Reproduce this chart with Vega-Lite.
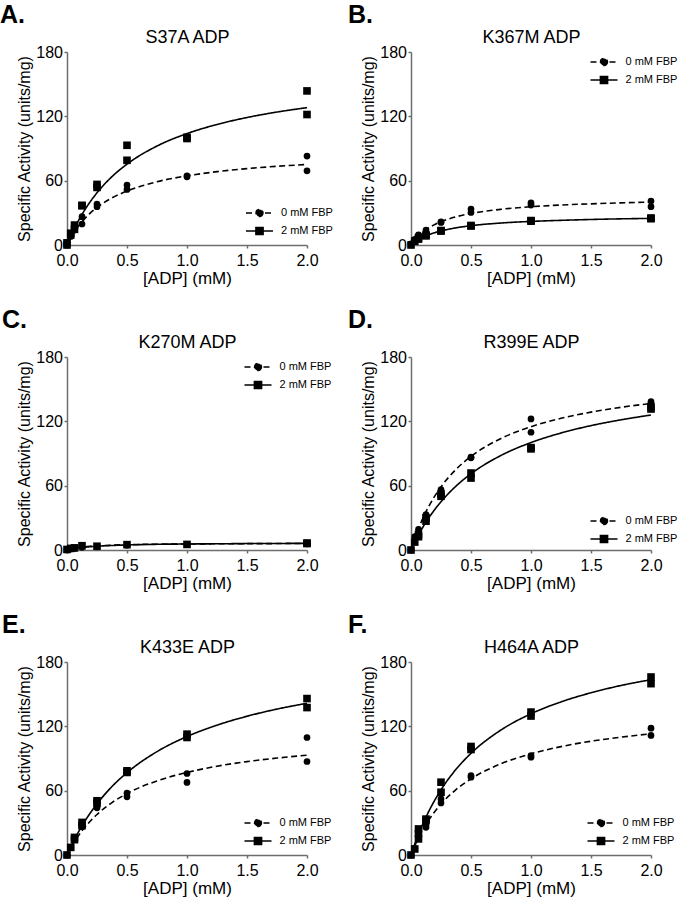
{
"$schema": "https://vega.github.io/schema/vega-lite/v6.json",
"padding": {"left": 0, "top": 3, "right": 0, "bottom": 0},
"background": "white",
"config": {
 "font": "Liberation Sans",
 "view": {"stroke": null},
 "axis": {"grid": false, "domainColor": "#6e6e6e", "domainWidth": 1.5, "tickColor": "#6e6e6e", "tickWidth": 1.5, "tickSize": 3, "labelFontSize": 16, "labelColor": "black", "labelFlush": false, "labelOverlap": false, "titleFontSize": 16, "titleFontWeight": "normal", "titleColor": "black"},
 "axisX": {"labelPadding": 4.5, "titlePadding": 2, "titleFontSize": 17},
 "axisY": {"labelPadding": 1.5, "titlePadding": 3},
 "title": {"anchor": "start", "frame": "group", "fontSize": 25, "fontWeight": "bold", "color": "black", "baseline": "bottom", "offset": 0.5},
 "legend": {"padding": 0, "labelFontSize": 11, "labelColor": "black", "labelBaseline": "middle", "symbolSize": 144, "labelOffset": 14.5, "rowPadding": 4, "symbolStrokeWidth": 1.5, "symbolFillColor": "black", "symbolStrokeColor": "black"}
},
"concat": [
 {"width": 240, "height": 193, "title": {"text": "A.", "dx": -67}, "resolve": {"axis": {"x": "independent"}},
  "layer": [
   {"data": {"name": "fit"}, "transform": [{"filter": "datum.panel === 'A'"}],
    "mark": {"type": "line", "interpolate": "monotone", "strokeWidth": 1.6, "color": "black"},
    "encoding": {
     "x": {"field": "adp", "type": "quantitative", "scale": {"domain": [0, 2]}, "axis": {"title": "[ADP] (mM)", "values": [0, 0.5, 1, 1.5, 2], "format": ".1f"}},
     "y": {"field": "act", "type": "quantitative", "scale": {"domain": [0, 180]}, "axis": {"title": "Specific Activity (units/mg)", "values": [0, 60, 120, 180]}},
     "strokeDash": {"field": "fbp", "type": "nominal", "scale": {"domain": ["0 mM FBP", "2 mM FBP"], "range": [[6, 3.5], [1, 0]]},
      "legend": {"orient": "none", "legendX": 185.5, "legendY": 154, "title": null,
       "encode": {"symbols": {"update": {"shape": {"signal": "datum.value === '0 mM FBP' ? 'M-2.25,0L2.25,0M0.58,0A0.58,0.58,0,1,1,-0.58,0A0.58,0.58,0,1,1,0.58,0Z' : 'M-2.25,0L2.25,0M-0.6,-0.6L0.6,-0.6L0.6,0.6L-0.6,0.6Z'"}, "fill": {"value": "black"}, "stroke": {"value": "black"}}}}}}
    }},
   {"data": {"name": "pts"}, "transform": [{"filter": "datum.panel === 'A' && datum.fbp === '0 mM FBP'"}],
    "mark": {"type": "point", "shape": "circle", "size": 45, "filled": true, "color": "black", "opacity": 1},
    "encoding": {
     "x": {"field": "adp", "type": "quantitative", "scale": {"domain": [0, 2]}, "axis": {"orient": "top", "title": "S37A ADP", "labels": false, "ticks": false, "domain": false, "titleFontSize": 18, "titlePadding": 5.5, "minExtent": 0}},
     "y": {"field": "act", "type": "quantitative", "scale": {"domain": [0, 180]}, "axis": {"title": "Specific Activity (units/mg)", "values": [0, 60, 120, 180]}}
    }},
   {"data": {"name": "pts"}, "transform": [{"filter": "datum.panel === 'A' && datum.fbp === '2 mM FBP'"}],
    "mark": {"type": "point", "shape": "square", "size": 58, "filled": true, "color": "black", "opacity": 1},
    "encoding": {
     "x": {"field": "adp", "type": "quantitative", "scale": {"domain": [0, 2]}, "axis": null},
     "y": {"field": "act", "type": "quantitative", "scale": {"domain": [0, 180]}, "axis": {"title": "Specific Activity (units/mg)", "values": [0, 60, 120, 180]}}
    }}
  ]},
 {"width": 240, "height": 193, "title": {"text": "B.", "dx": -63}, "resolve": {"axis": {"x": "independent"}},
  "layer": [
   {"data": {"name": "fit"}, "transform": [{"filter": "datum.panel === 'B'"}],
    "mark": {"type": "line", "interpolate": "monotone", "strokeWidth": 1.6, "color": "black"},
    "encoding": {
     "x": {"field": "adp", "type": "quantitative", "scale": {"domain": [0, 2]}, "axis": {"title": "[ADP] (mM)", "values": [0, 0.5, 1, 1.5, 2], "format": ".1f"}},
     "y": {"field": "act", "type": "quantitative", "scale": {"domain": [0, 180]}, "axis": {"title": "Specific Activity (units/mg)", "values": [0, 60, 120, 180]}},
     "strokeDash": {"field": "fbp", "type": "nominal", "scale": {"domain": ["0 mM FBP", "2 mM FBP"], "range": [[6, 3.5], [1, 0]]},
      "legend": {"orient": "none", "legendX": 186, "legendY": 3, "title": null,
       "encode": {"symbols": {"update": {"shape": {"signal": "datum.value === '0 mM FBP' ? 'M-2.25,0L2.25,0M0.58,0A0.58,0.58,0,1,1,-0.58,0A0.58,0.58,0,1,1,0.58,0Z' : 'M-2.25,0L2.25,0M-0.6,-0.6L0.6,-0.6L0.6,0.6L-0.6,0.6Z'"}, "fill": {"value": "black"}, "stroke": {"value": "black"}}}}}}
    }},
   {"data": {"name": "pts"}, "transform": [{"filter": "datum.panel === 'B' && datum.fbp === '0 mM FBP'"}],
    "mark": {"type": "point", "shape": "circle", "size": 45, "filled": true, "color": "black", "opacity": 1},
    "encoding": {
     "x": {"field": "adp", "type": "quantitative", "scale": {"domain": [0, 2]}, "axis": {"orient": "top", "title": "K367M ADP", "labels": false, "ticks": false, "domain": false, "titleFontSize": 18, "titlePadding": 5.5, "minExtent": 0}},
     "y": {"field": "act", "type": "quantitative", "scale": {"domain": [0, 180]}, "axis": {"title": "Specific Activity (units/mg)", "values": [0, 60, 120, 180]}}
    }},
   {"data": {"name": "pts"}, "transform": [{"filter": "datum.panel === 'B' && datum.fbp === '2 mM FBP'"}],
    "mark": {"type": "point", "shape": "square", "size": 58, "filled": true, "color": "black", "opacity": 1},
    "encoding": {
     "x": {"field": "adp", "type": "quantitative", "scale": {"domain": [0, 2]}, "axis": null},
     "y": {"field": "act", "type": "quantitative", "scale": {"domain": [0, 180]}, "axis": {"title": "Specific Activity (units/mg)", "values": [0, 60, 120, 180]}}
    }}
  ]},
 {"width": 240, "height": 193, "title": {"text": "C.", "dx": -65}, "resolve": {"axis": {"x": "independent"}},
  "layer": [
   {"data": {"name": "fit"}, "transform": [{"filter": "datum.panel === 'C'"}],
    "mark": {"type": "line", "interpolate": "monotone", "strokeWidth": 1.6, "color": "black"},
    "encoding": {
     "x": {"field": "adp", "type": "quantitative", "scale": {"domain": [0, 2]}, "axis": {"title": "[ADP] (mM)", "values": [0, 0.5, 1, 1.5, 2], "format": ".1f"}},
     "y": {"field": "act", "type": "quantitative", "scale": {"domain": [0, 180]}, "axis": {"title": "Specific Activity (units/mg)", "values": [0, 60, 120, 180]}},
     "strokeDash": {"field": "fbp", "type": "nominal", "scale": {"domain": ["0 mM FBP", "2 mM FBP"], "range": [[6, 3.5], [1, 0]]},
      "legend": {"orient": "none", "legendX": 184, "legendY": 3, "title": null,
       "encode": {"symbols": {"update": {"shape": {"signal": "datum.value === '0 mM FBP' ? 'M-2.25,0L2.25,0M0.58,0A0.58,0.58,0,1,1,-0.58,0A0.58,0.58,0,1,1,0.58,0Z' : 'M-2.25,0L2.25,0M-0.6,-0.6L0.6,-0.6L0.6,0.6L-0.6,0.6Z'"}, "fill": {"value": "black"}, "stroke": {"value": "black"}}}}}}
    }},
   {"data": {"name": "pts"}, "transform": [{"filter": "datum.panel === 'C' && datum.fbp === '0 mM FBP'"}],
    "mark": {"type": "point", "shape": "circle", "size": 45, "filled": true, "color": "black", "opacity": 1},
    "encoding": {
     "x": {"field": "adp", "type": "quantitative", "scale": {"domain": [0, 2]}, "axis": {"orient": "top", "title": "K270M ADP", "labels": false, "ticks": false, "domain": false, "titleFontSize": 18, "titlePadding": 5.5, "minExtent": 0}},
     "y": {"field": "act", "type": "quantitative", "scale": {"domain": [0, 180]}, "axis": {"title": "Specific Activity (units/mg)", "values": [0, 60, 120, 180]}}
    }},
   {"data": {"name": "pts"}, "transform": [{"filter": "datum.panel === 'C' && datum.fbp === '2 mM FBP'"}],
    "mark": {"type": "point", "shape": "square", "size": 58, "filled": true, "color": "black", "opacity": 1},
    "encoding": {
     "x": {"field": "adp", "type": "quantitative", "scale": {"domain": [0, 2]}, "axis": null},
     "y": {"field": "act", "type": "quantitative", "scale": {"domain": [0, 180]}, "axis": {"title": "Specific Activity (units/mg)", "values": [0, 60, 120, 180]}}
    }}
  ]},
 {"width": 240, "height": 193, "title": {"text": "D.", "dx": -63}, "resolve": {"axis": {"x": "independent"}},
  "layer": [
   {"data": {"name": "fit"}, "transform": [{"filter": "datum.panel === 'D'"}],
    "mark": {"type": "line", "interpolate": "monotone", "strokeWidth": 1.6, "color": "black"},
    "encoding": {
     "x": {"field": "adp", "type": "quantitative", "scale": {"domain": [0, 2]}, "axis": {"title": "[ADP] (mM)", "values": [0, 0.5, 1, 1.5, 2], "format": ".1f"}},
     "y": {"field": "act", "type": "quantitative", "scale": {"domain": [0, 180]}, "axis": {"title": "Specific Activity (units/mg)", "values": [0, 60, 120, 180]}},
     "strokeDash": {"field": "fbp", "type": "nominal", "scale": {"domain": ["0 mM FBP", "2 mM FBP"], "range": [[6, 3.5], [1, 0]]},
      "legend": {"orient": "none", "legendX": 186, "legendY": 157, "title": null,
       "encode": {"symbols": {"update": {"shape": {"signal": "datum.value === '0 mM FBP' ? 'M-2.25,0L2.25,0M0.58,0A0.58,0.58,0,1,1,-0.58,0A0.58,0.58,0,1,1,0.58,0Z' : 'M-2.25,0L2.25,0M-0.6,-0.6L0.6,-0.6L0.6,0.6L-0.6,0.6Z'"}, "fill": {"value": "black"}, "stroke": {"value": "black"}}}}}}
    }},
   {"data": {"name": "pts"}, "transform": [{"filter": "datum.panel === 'D' && datum.fbp === '0 mM FBP'"}],
    "mark": {"type": "point", "shape": "circle", "size": 45, "filled": true, "color": "black", "opacity": 1},
    "encoding": {
     "x": {"field": "adp", "type": "quantitative", "scale": {"domain": [0, 2]}, "axis": {"orient": "top", "title": "R399E ADP", "labels": false, "ticks": false, "domain": false, "titleFontSize": 18, "titlePadding": 5.5, "minExtent": 0}},
     "y": {"field": "act", "type": "quantitative", "scale": {"domain": [0, 180]}, "axis": {"title": "Specific Activity (units/mg)", "values": [0, 60, 120, 180]}}
    }},
   {"data": {"name": "pts"}, "transform": [{"filter": "datum.panel === 'D' && datum.fbp === '2 mM FBP'"}],
    "mark": {"type": "point", "shape": "square", "size": 58, "filled": true, "color": "black", "opacity": 1},
    "encoding": {
     "x": {"field": "adp", "type": "quantitative", "scale": {"domain": [0, 2]}, "axis": null},
     "y": {"field": "act", "type": "quantitative", "scale": {"domain": [0, 180]}, "axis": {"title": "Specific Activity (units/mg)", "values": [0, 60, 120, 180]}}
    }}
  ]},
 {"width": 240, "height": 193, "title": {"text": "E.", "dx": -65}, "resolve": {"axis": {"x": "independent"}},
  "layer": [
   {"data": {"name": "fit"}, "transform": [{"filter": "datum.panel === 'E'"}],
    "mark": {"type": "line", "interpolate": "monotone", "strokeWidth": 1.6, "color": "black"},
    "encoding": {
     "x": {"field": "adp", "type": "quantitative", "scale": {"domain": [0, 2]}, "axis": {"title": "[ADP] (mM)", "values": [0, 0.5, 1, 1.5, 2], "format": ".1f"}},
     "y": {"field": "act", "type": "quantitative", "scale": {"domain": [0, 180]}, "axis": {"title": "Specific Activity (units/mg)", "values": [0, 60, 120, 180]}},
     "strokeDash": {"field": "fbp", "type": "nominal", "scale": {"domain": ["0 mM FBP", "2 mM FBP"], "range": [[6, 3.5], [1, 0]]},
      "legend": {"orient": "none", "legendX": 184, "legendY": 154, "title": null,
       "encode": {"symbols": {"update": {"shape": {"signal": "datum.value === '0 mM FBP' ? 'M-2.25,0L2.25,0M0.58,0A0.58,0.58,0,1,1,-0.58,0A0.58,0.58,0,1,1,0.58,0Z' : 'M-2.25,0L2.25,0M-0.6,-0.6L0.6,-0.6L0.6,0.6L-0.6,0.6Z'"}, "fill": {"value": "black"}, "stroke": {"value": "black"}}}}}}
    }},
   {"data": {"name": "pts"}, "transform": [{"filter": "datum.panel === 'E' && datum.fbp === '0 mM FBP'"}],
    "mark": {"type": "point", "shape": "circle", "size": 45, "filled": true, "color": "black", "opacity": 1},
    "encoding": {
     "x": {"field": "adp", "type": "quantitative", "scale": {"domain": [0, 2]}, "axis": {"orient": "top", "title": "K433E ADP", "labels": false, "ticks": false, "domain": false, "titleFontSize": 18, "titlePadding": 5.5, "minExtent": 0}},
     "y": {"field": "act", "type": "quantitative", "scale": {"domain": [0, 180]}, "axis": {"title": "Specific Activity (units/mg)", "values": [0, 60, 120, 180]}}
    }},
   {"data": {"name": "pts"}, "transform": [{"filter": "datum.panel === 'E' && datum.fbp === '2 mM FBP'"}],
    "mark": {"type": "point", "shape": "square", "size": 58, "filled": true, "color": "black", "opacity": 1},
    "encoding": {
     "x": {"field": "adp", "type": "quantitative", "scale": {"domain": [0, 2]}, "axis": null},
     "y": {"field": "act", "type": "quantitative", "scale": {"domain": [0, 180]}, "axis": {"title": "Specific Activity (units/mg)", "values": [0, 60, 120, 180]}}
    }}
  ]},
 {"width": 240, "height": 193, "title": {"text": "F.", "dx": -63}, "resolve": {"axis": {"x": "independent"}},
  "layer": [
   {"data": {"name": "fit"}, "transform": [{"filter": "datum.panel === 'F'"}],
    "mark": {"type": "line", "interpolate": "monotone", "strokeWidth": 1.6, "color": "black"},
    "encoding": {
     "x": {"field": "adp", "type": "quantitative", "scale": {"domain": [0, 2]}, "axis": {"title": "[ADP] (mM)", "values": [0, 0.5, 1, 1.5, 2], "format": ".1f"}},
     "y": {"field": "act", "type": "quantitative", "scale": {"domain": [0, 180]}, "axis": {"title": "Specific Activity (units/mg)", "values": [0, 60, 120, 180]}},
     "strokeDash": {"field": "fbp", "type": "nominal", "scale": {"domain": ["0 mM FBP", "2 mM FBP"], "range": [[6, 3.5], [1, 0]]},
      "legend": {"orient": "none", "legendX": 183, "legendY": 154, "title": null,
       "encode": {"symbols": {"update": {"shape": {"signal": "datum.value === '0 mM FBP' ? 'M-2.25,0L2.25,0M0.58,0A0.58,0.58,0,1,1,-0.58,0A0.58,0.58,0,1,1,0.58,0Z' : 'M-2.25,0L2.25,0M-0.6,-0.6L0.6,-0.6L0.6,0.6L-0.6,0.6Z'"}, "fill": {"value": "black"}, "stroke": {"value": "black"}}}}}}
    }},
   {"data": {"name": "pts"}, "transform": [{"filter": "datum.panel === 'F' && datum.fbp === '0 mM FBP'"}],
    "mark": {"type": "point", "shape": "circle", "size": 45, "filled": true, "color": "black", "opacity": 1},
    "encoding": {
     "x": {"field": "adp", "type": "quantitative", "scale": {"domain": [0, 2]}, "axis": {"orient": "top", "title": "H464A ADP", "labels": false, "ticks": false, "domain": false, "titleFontSize": 18, "titlePadding": 5.5, "minExtent": 0}},
     "y": {"field": "act", "type": "quantitative", "scale": {"domain": [0, 180]}, "axis": {"title": "Specific Activity (units/mg)", "values": [0, 60, 120, 180]}}
    }},
   {"data": {"name": "pts"}, "transform": [{"filter": "datum.panel === 'F' && datum.fbp === '2 mM FBP'"}],
    "mark": {"type": "point", "shape": "square", "size": 58, "filled": true, "color": "black", "opacity": 1},
    "encoding": {
     "x": {"field": "adp", "type": "quantitative", "scale": {"domain": [0, 2]}, "axis": null},
     "y": {"field": "act", "type": "quantitative", "scale": {"domain": [0, 180]}, "axis": {"title": "Specific Activity (units/mg)", "values": [0, 60, 120, 180]}}
    }}
  ]}
],
"columns": 2,
"bounds": "flush",
"spacing": {"row": 112, "column": 104},
"resolve": {"scale": {"strokeDash": "independent"}, "legend": {"strokeDash": "independent"}},
"datasets": {
"pts": [
{"panel":"A","fbp":"0 mM FBP","adp":0,"act":0},{"panel":"A","fbp":"0 mM FBP","adp":0.03125,"act":8},{"panel":"A","fbp":"0 mM FBP","adp":0.0625,"act":14},{"panel":"A","fbp":"0 mM FBP","adp":0.0625,"act":17},{"panel":"A","fbp":"0 mM FBP","adp":0.125,"act":19.6},{"panel":"A","fbp":"0 mM FBP","adp":0.125,"act":26.4},{"panel":"A","fbp":"0 mM FBP","adp":0.25,"act":35.7},{"panel":"A","fbp":"0 mM FBP","adp":0.25,"act":38.2},{"panel":"A","fbp":"0 mM FBP","adp":0.5,"act":51.8},{"panel":"A","fbp":"0 mM FBP","adp":0.5,"act":55.9},{"panel":"A","fbp":"0 mM FBP","adp":1,"act":63.6},{"panel":"A","fbp":"0 mM FBP","adp":1,"act":64.5},{"panel":"A","fbp":"0 mM FBP","adp":2,"act":69.2},{"panel":"A","fbp":"0 mM FBP","adp":2,"act":82.9},
{"panel":"A","fbp":"2 mM FBP","adp":0,"act":0},{"panel":"A","fbp":"2 mM FBP","adp":0,"act":2},{"panel":"A","fbp":"2 mM FBP","adp":0.03125,"act":9.3},{"panel":"A","fbp":"2 mM FBP","adp":0.03125,"act":11},{"panel":"A","fbp":"2 mM FBP","adp":0.0625,"act":14.6},{"panel":"A","fbp":"2 mM FBP","adp":0.0625,"act":18.6},{"panel":"A","fbp":"2 mM FBP","adp":0.125,"act":36.6},{"panel":"A","fbp":"2 mM FBP","adp":0.125,"act":37},{"panel":"A","fbp":"2 mM FBP","adp":0.25,"act":53.7},{"panel":"A","fbp":"2 mM FBP","adp":0.25,"act":56.5},{"panel":"A","fbp":"2 mM FBP","adp":0.5,"act":79},{"panel":"A","fbp":"2 mM FBP","adp":0.5,"act":93},{"panel":"A","fbp":"2 mM FBP","adp":1,"act":99.3},{"panel":"A","fbp":"2 mM FBP","adp":1,"act":100.5},{"panel":"A","fbp":"2 mM FBP","adp":2,"act":121.7},{"panel":"A","fbp":"2 mM FBP","adp":2,"act":143.7},
{"panel":"B","fbp":"0 mM FBP","adp":0,"act":1},{"panel":"B","fbp":"0 mM FBP","adp":0.03125,"act":5.3},{"panel":"B","fbp":"0 mM FBP","adp":0.0625,"act":8.7},{"panel":"B","fbp":"0 mM FBP","adp":0.0625,"act":9.5},{"panel":"B","fbp":"0 mM FBP","adp":0.125,"act":11.8},{"panel":"B","fbp":"0 mM FBP","adp":0.125,"act":14},{"panel":"B","fbp":"0 mM FBP","adp":0.25,"act":21.1},{"panel":"B","fbp":"0 mM FBP","adp":0.25,"act":21.5},{"panel":"B","fbp":"0 mM FBP","adp":0.5,"act":30.4},{"panel":"B","fbp":"0 mM FBP","adp":0.5,"act":33.5},{"panel":"B","fbp":"0 mM FBP","adp":1,"act":37.2},{"panel":"B","fbp":"0 mM FBP","adp":1,"act":39.4},{"panel":"B","fbp":"0 mM FBP","adp":2,"act":35.7},{"panel":"B","fbp":"0 mM FBP","adp":2,"act":41},
{"panel":"B","fbp":"2 mM FBP","adp":0,"act":0},{"panel":"B","fbp":"2 mM FBP","adp":0.03125,"act":3.5},{"panel":"B","fbp":"2 mM FBP","adp":0.0625,"act":5.5},{"panel":"B","fbp":"2 mM FBP","adp":0.0625,"act":6.8},{"panel":"B","fbp":"2 mM FBP","adp":0.125,"act":8.5},{"panel":"B","fbp":"2 mM FBP","adp":0.125,"act":9.3},{"panel":"B","fbp":"2 mM FBP","adp":0.25,"act":13},{"panel":"B","fbp":"2 mM FBP","adp":0.25,"act":13.5},{"panel":"B","fbp":"2 mM FBP","adp":0.5,"act":17.7},{"panel":"B","fbp":"2 mM FBP","adp":0.5,"act":18.2},{"panel":"B","fbp":"2 mM FBP","adp":1,"act":22.2},{"panel":"B","fbp":"2 mM FBP","adp":1,"act":22.8},{"panel":"B","fbp":"2 mM FBP","adp":2,"act":24.5},{"panel":"B","fbp":"2 mM FBP","adp":2,"act":25.2},
{"panel":"C","fbp":"0 mM FBP","adp":0,"act":0},{"panel":"C","fbp":"0 mM FBP","adp":0.03125,"act":1},{"panel":"C","fbp":"0 mM FBP","adp":0.0625,"act":1.5},{"panel":"C","fbp":"0 mM FBP","adp":0.125,"act":2.5},{"panel":"C","fbp":"0 mM FBP","adp":0.25,"act":3},{"panel":"C","fbp":"0 mM FBP","adp":0.5,"act":4.5},{"panel":"C","fbp":"0 mM FBP","adp":1,"act":5},{"panel":"C","fbp":"0 mM FBP","adp":2,"act":5.8},{"panel":"C","fbp":"0 mM FBP","adp":2,"act":6.2},
{"panel":"C","fbp":"2 mM FBP","adp":0,"act":0.5},{"panel":"C","fbp":"2 mM FBP","adp":0.03125,"act":1.5},{"panel":"C","fbp":"2 mM FBP","adp":0.0625,"act":2},{"panel":"C","fbp":"2 mM FBP","adp":0.125,"act":4},{"panel":"C","fbp":"2 mM FBP","adp":0.25,"act":3.5},{"panel":"C","fbp":"2 mM FBP","adp":0.5,"act":5},{"panel":"C","fbp":"2 mM FBP","adp":1,"act":5.2},{"panel":"C","fbp":"2 mM FBP","adp":2,"act":6},{"panel":"C","fbp":"2 mM FBP","adp":2,"act":6.5},
{"panel":"D","fbp":"0 mM FBP","adp":0,"act":0},{"panel":"D","fbp":"0 mM FBP","adp":0.03125,"act":12.4},{"panel":"D","fbp":"0 mM FBP","adp":0.0625,"act":14.5},{"panel":"D","fbp":"0 mM FBP","adp":0.0625,"act":19.2},{"panel":"D","fbp":"0 mM FBP","adp":0.125,"act":31},{"panel":"D","fbp":"0 mM FBP","adp":0.125,"act":33.1},{"panel":"D","fbp":"0 mM FBP","adp":0.25,"act":54.1},{"panel":"D","fbp":"0 mM FBP","adp":0.25,"act":56.3},{"panel":"D","fbp":"0 mM FBP","adp":0.5,"act":86},{"panel":"D","fbp":"0 mM FBP","adp":0.5,"act":86.6},{"panel":"D","fbp":"0 mM FBP","adp":1,"act":109.8},{"panel":"D","fbp":"0 mM FBP","adp":1,"act":122.2},{"panel":"D","fbp":"0 mM FBP","adp":2,"act":136.7},{"panel":"D","fbp":"0 mM FBP","adp":2,"act":138.3},
{"panel":"D","fbp":"2 mM FBP","adp":0,"act":0},{"panel":"D","fbp":"2 mM FBP","adp":0.03125,"act":7.4},{"panel":"D","fbp":"2 mM FBP","adp":0.0625,"act":12.4},{"panel":"D","fbp":"2 mM FBP","adp":0.0625,"act":14.5},{"panel":"D","fbp":"2 mM FBP","adp":0.125,"act":26.9},{"panel":"D","fbp":"2 mM FBP","adp":0.125,"act":30},{"panel":"D","fbp":"2 mM FBP","adp":0.25,"act":50.1},{"panel":"D","fbp":"2 mM FBP","adp":0.25,"act":52.3},{"panel":"D","fbp":"2 mM FBP","adp":0.5,"act":67.1},{"panel":"D","fbp":"2 mM FBP","adp":0.5,"act":71.8},{"panel":"D","fbp":"2 mM FBP","adp":1,"act":94.3},{"panel":"D","fbp":"2 mM FBP","adp":1,"act":95.5},{"panel":"D","fbp":"2 mM FBP","adp":2,"act":131.5},{"panel":"D","fbp":"2 mM FBP","adp":2,"act":133.6},
{"panel":"E","fbp":"0 mM FBP","adp":0,"act":0},{"panel":"E","fbp":"0 mM FBP","adp":0.03125,"act":7.1},{"panel":"E","fbp":"0 mM FBP","adp":0.0625,"act":15.5},{"panel":"E","fbp":"0 mM FBP","adp":0.0625,"act":16},{"panel":"E","fbp":"0 mM FBP","adp":0.125,"act":26.4},{"panel":"E","fbp":"0 mM FBP","adp":0.125,"act":28},{"panel":"E","fbp":"0 mM FBP","adp":0.25,"act":44},{"panel":"E","fbp":"0 mM FBP","adp":0.25,"act":45.3},{"panel":"E","fbp":"0 mM FBP","adp":0.5,"act":54.3},{"panel":"E","fbp":"0 mM FBP","adp":0.5,"act":57.7},{"panel":"E","fbp":"0 mM FBP","adp":1,"act":67.7},{"panel":"E","fbp":"0 mM FBP","adp":1,"act":76},{"panel":"E","fbp":"0 mM FBP","adp":2,"act":87.2},{"panel":"E","fbp":"0 mM FBP","adp":2,"act":109.6},
{"panel":"E","fbp":"2 mM FBP","adp":0,"act":0},{"panel":"E","fbp":"2 mM FBP","adp":0.03125,"act":7.1},{"panel":"E","fbp":"2 mM FBP","adp":0.0625,"act":14.3},{"panel":"E","fbp":"2 mM FBP","adp":0.0625,"act":16.4},{"panel":"E","fbp":"2 mM FBP","adp":0.125,"act":27.3},{"panel":"E","fbp":"2 mM FBP","adp":0.125,"act":30.4},{"panel":"E","fbp":"2 mM FBP","adp":0.25,"act":48.4},{"panel":"E","fbp":"2 mM FBP","adp":0.25,"act":50.6},{"panel":"E","fbp":"2 mM FBP","adp":0.5,"act":77},{"panel":"E","fbp":"2 mM FBP","adp":0.5,"act":78.5},{"panel":"E","fbp":"2 mM FBP","adp":1,"act":109.6},{"panel":"E","fbp":"2 mM FBP","adp":1,"act":112.7},{"panel":"E","fbp":"2 mM FBP","adp":2,"act":137.5},{"panel":"E","fbp":"2 mM FBP","adp":2,"act":145.9},
{"panel":"F","fbp":"0 mM FBP","adp":0,"act":0},{"panel":"F","fbp":"0 mM FBP","adp":0.03125,"act":6.2},{"panel":"F","fbp":"0 mM FBP","adp":0.0625,"act":20},{"panel":"F","fbp":"0 mM FBP","adp":0.0625,"act":23.7},{"panel":"F","fbp":"0 mM FBP","adp":0.125,"act":25.8},{"panel":"F","fbp":"0 mM FBP","adp":0.125,"act":28},{"panel":"F","fbp":"0 mM FBP","adp":0.25,"act":48.6},{"panel":"F","fbp":"0 mM FBP","adp":0.25,"act":52.3},{"panel":"F","fbp":"0 mM FBP","adp":0.5,"act":72.6},{"panel":"F","fbp":"0 mM FBP","adp":0.5,"act":74.1},{"panel":"F","fbp":"0 mM FBP","adp":1,"act":91.2},{"panel":"F","fbp":"0 mM FBP","adp":1,"act":92.8},{"panel":"F","fbp":"0 mM FBP","adp":2,"act":111.5},{"panel":"F","fbp":"0 mM FBP","adp":2,"act":118.3},
{"panel":"F","fbp":"2 mM FBP","adp":0,"act":0},{"panel":"F","fbp":"2 mM FBP","adp":0.03125,"act":5.6},{"panel":"F","fbp":"2 mM FBP","adp":0.0625,"act":15},{"panel":"F","fbp":"2 mM FBP","adp":0.0625,"act":20},{"panel":"F","fbp":"2 mM FBP","adp":0.0625,"act":24.3},{"panel":"F","fbp":"2 mM FBP","adp":0.125,"act":32.1},{"panel":"F","fbp":"2 mM FBP","adp":0.125,"act":33.5},{"panel":"F","fbp":"2 mM FBP","adp":0.25,"act":58.5},{"panel":"F","fbp":"2 mM FBP","adp":0.25,"act":67.9},{"panel":"F","fbp":"2 mM FBP","adp":0.5,"act":98.4},{"panel":"F","fbp":"2 mM FBP","adp":0.5,"act":101.2},{"panel":"F","fbp":"2 mM FBP","adp":1,"act":129.6},{"panel":"F","fbp":"2 mM FBP","adp":1,"act":133.3},{"panel":"F","fbp":"2 mM FBP","adp":2,"act":159.8},{"panel":"F","fbp":"2 mM FBP","adp":2,"act":166}
],
"fit": [
{"panel":"A","fbp":"0 mM FBP","adp":0,"act":0},{"panel":"A","fbp":"0 mM FBP","adp":0.03125,"act":6.6},{"panel":"A","fbp":"0 mM FBP","adp":0.0625,"act":12.4},{"panel":"A","fbp":"0 mM FBP","adp":0.125,"act":21.7},{"panel":"A","fbp":"0 mM FBP","adp":0.1875,"act":29.1},{"panel":"A","fbp":"0 mM FBP","adp":0.25,"act":35},{"panel":"A","fbp":"0 mM FBP","adp":0.375,"act":43.9},{"panel":"A","fbp":"0 mM FBP","adp":0.5,"act":50.3},{"panel":"A","fbp":"0 mM FBP","adp":0.75,"act":59},{"panel":"A","fbp":"0 mM FBP","adp":1,"act":64.5},{"panel":"A","fbp":"0 mM FBP","adp":1.25,"act":68.4},{"panel":"A","fbp":"0 mM FBP","adp":1.5,"act":71.2},{"panel":"A","fbp":"0 mM FBP","adp":1.75,"act":73.4},{"panel":"A","fbp":"0 mM FBP","adp":2,"act":75.1},
{"panel":"A","fbp":"2 mM FBP","adp":0,"act":0},{"panel":"A","fbp":"2 mM FBP","adp":0.03125,"act":8.2},{"panel":"A","fbp":"2 mM FBP","adp":0.0625,"act":15.6},{"panel":"A","fbp":"2 mM FBP","adp":0.125,"act":28.5},{"panel":"A","fbp":"2 mM FBP","adp":0.1875,"act":39.4},{"panel":"A","fbp":"2 mM FBP","adp":0.25,"act":48.7},{"panel":"A","fbp":"2 mM FBP","adp":0.375,"act":63.8},{"panel":"A","fbp":"2 mM FBP","adp":0.5,"act":75.4},{"panel":"A","fbp":"2 mM FBP","adp":0.75,"act":92.3},{"panel":"A","fbp":"2 mM FBP","adp":1,"act":103.9},{"panel":"A","fbp":"2 mM FBP","adp":1.25,"act":112.4},{"panel":"A","fbp":"2 mM FBP","adp":1.5,"act":118.9},{"panel":"A","fbp":"2 mM FBP","adp":1.75,"act":124},{"panel":"A","fbp":"2 mM FBP","adp":2,"act":128.1},
{"panel":"B","fbp":"0 mM FBP","adp":0,"act":0},{"panel":"B","fbp":"0 mM FBP","adp":0.03125,"act":4.7},{"panel":"B","fbp":"0 mM FBP","adp":0.0625,"act":8.5},{"panel":"B","fbp":"0 mM FBP","adp":0.125,"act":14.3},{"panel":"B","fbp":"0 mM FBP","adp":0.1875,"act":18.5},{"panel":"B","fbp":"0 mM FBP","adp":0.25,"act":21.7},{"panel":"B","fbp":"0 mM FBP","adp":0.375,"act":26.3},{"panel":"B","fbp":"0 mM FBP","adp":0.5,"act":29.4},{"panel":"B","fbp":"0 mM FBP","adp":0.75,"act":33.3},{"panel":"B","fbp":"0 mM FBP","adp":1,"act":35.7},{"panel":"B","fbp":"0 mM FBP","adp":1.25,"act":37.3},{"panel":"B","fbp":"0 mM FBP","adp":1.5,"act":38.4},{"panel":"B","fbp":"0 mM FBP","adp":1.75,"act":39.3},{"panel":"B","fbp":"0 mM FBP","adp":2,"act":40},
{"panel":"B","fbp":"2 mM FBP","adp":0,"act":0},{"panel":"B","fbp":"2 mM FBP","adp":0.03125,"act":2.8},{"panel":"B","fbp":"2 mM FBP","adp":0.0625,"act":5},{"panel":"B","fbp":"2 mM FBP","adp":0.125,"act":8.5},{"panel":"B","fbp":"2 mM FBP","adp":0.1875,"act":11.1},{"panel":"B","fbp":"2 mM FBP","adp":0.25,"act":13.1},{"panel":"B","fbp":"2 mM FBP","adp":0.375,"act":16},{"panel":"B","fbp":"2 mM FBP","adp":0.5,"act":18},{"panel":"B","fbp":"2 mM FBP","adp":0.75,"act":20.5},{"panel":"B","fbp":"2 mM FBP","adp":1,"act":22},{"panel":"B","fbp":"2 mM FBP","adp":1.25,"act":23},{"panel":"B","fbp":"2 mM FBP","adp":1.5,"act":23.8},{"panel":"B","fbp":"2 mM FBP","adp":1.75,"act":24.4},{"panel":"B","fbp":"2 mM FBP","adp":2,"act":24.8},
{"panel":"C","fbp":"0 mM FBP","adp":0,"act":0},{"panel":"C","fbp":"0 mM FBP","adp":0.03125,"act":1},{"panel":"C","fbp":"0 mM FBP","adp":0.0625,"act":1.8},{"panel":"C","fbp":"0 mM FBP","adp":0.125,"act":2.8},{"panel":"C","fbp":"0 mM FBP","adp":0.1875,"act":3.5},{"panel":"C","fbp":"0 mM FBP","adp":0.25,"act":3.9},{"panel":"C","fbp":"0 mM FBP","adp":0.375,"act":4.5},{"panel":"C","fbp":"0 mM FBP","adp":0.5,"act":4.9},{"panel":"C","fbp":"0 mM FBP","adp":0.75,"act":5.4},{"panel":"C","fbp":"0 mM FBP","adp":1,"act":5.6},{"panel":"C","fbp":"0 mM FBP","adp":1.25,"act":5.8},{"panel":"C","fbp":"0 mM FBP","adp":1.5,"act":5.9},{"panel":"C","fbp":"0 mM FBP","adp":1.75,"act":6},{"panel":"C","fbp":"0 mM FBP","adp":2,"act":6.1},
{"panel":"C","fbp":"2 mM FBP","adp":0,"act":0},{"panel":"C","fbp":"2 mM FBP","adp":0.03125,"act":0.8},{"panel":"C","fbp":"2 mM FBP","adp":0.0625,"act":1.4},{"panel":"C","fbp":"2 mM FBP","adp":0.125,"act":2.3},{"panel":"C","fbp":"2 mM FBP","adp":0.1875,"act":3},{"panel":"C","fbp":"2 mM FBP","adp":0.25,"act":3.5},{"panel":"C","fbp":"2 mM FBP","adp":0.375,"act":4.2},{"panel":"C","fbp":"2 mM FBP","adp":0.5,"act":4.7},{"panel":"C","fbp":"2 mM FBP","adp":0.75,"act":5.3},{"panel":"C","fbp":"2 mM FBP","adp":1,"act":5.6},{"panel":"C","fbp":"2 mM FBP","adp":1.25,"act":5.8},{"panel":"C","fbp":"2 mM FBP","adp":1.5,"act":6},{"panel":"C","fbp":"2 mM FBP","adp":1.75,"act":6.1},{"panel":"C","fbp":"2 mM FBP","adp":2,"act":6.2},
{"panel":"D","fbp":"0 mM FBP","adp":0,"act":0},{"panel":"D","fbp":"0 mM FBP","adp":0.03125,"act":10.6},{"panel":"D","fbp":"0 mM FBP","adp":0.0625,"act":20},{"panel":"D","fbp":"0 mM FBP","adp":0.125,"act":35.7},{"panel":"D","fbp":"0 mM FBP","adp":0.1875,"act":48.4},{"panel":"D","fbp":"0 mM FBP","adp":0.25,"act":58.9},{"panel":"D","fbp":"0 mM FBP","adp":0.375,"act":75.2},{"panel":"D","fbp":"0 mM FBP","adp":0.5,"act":87.3},{"panel":"D","fbp":"0 mM FBP","adp":0.75,"act":104},{"panel":"D","fbp":"0 mM FBP","adp":1,"act":115},{"panel":"D","fbp":"0 mM FBP","adp":1.25,"act":122.8},{"panel":"D","fbp":"0 mM FBP","adp":1.5,"act":128.6},{"panel":"D","fbp":"0 mM FBP","adp":1.75,"act":133.1},{"panel":"D","fbp":"0 mM FBP","adp":2,"act":136.7},
{"panel":"D","fbp":"2 mM FBP","adp":0,"act":0},{"panel":"D","fbp":"2 mM FBP","adp":0.03125,"act":7.3},{"panel":"D","fbp":"2 mM FBP","adp":0.0625,"act":14.1},{"panel":"D","fbp":"2 mM FBP","adp":0.125,"act":26},{"panel":"D","fbp":"2 mM FBP","adp":0.1875,"act":36.2},{"panel":"D","fbp":"2 mM FBP","adp":0.25,"act":45},{"panel":"D","fbp":"2 mM FBP","adp":0.375,"act":59.6},{"panel":"D","fbp":"2 mM FBP","adp":0.5,"act":71.1},{"panel":"D","fbp":"2 mM FBP","adp":0.75,"act":88.2},{"panel":"D","fbp":"2 mM FBP","adp":1,"act":100.2},{"panel":"D","fbp":"2 mM FBP","adp":1.25,"act":109.1},{"panel":"D","fbp":"2 mM FBP","adp":1.5,"act":116},{"panel":"D","fbp":"2 mM FBP","adp":1.75,"act":121.4},{"panel":"D","fbp":"2 mM FBP","adp":2,"act":125.9},
{"panel":"E","fbp":"0 mM FBP","adp":0,"act":0},{"panel":"E","fbp":"0 mM FBP","adp":0.03125,"act":6.6},{"panel":"E","fbp":"0 mM FBP","adp":0.0625,"act":12.5},{"panel":"E","fbp":"0 mM FBP","adp":0.125,"act":22.5},{"panel":"E","fbp":"0 mM FBP","adp":0.1875,"act":30.8},{"panel":"E","fbp":"0 mM FBP","adp":0.25,"act":37.8},{"panel":"E","fbp":"0 mM FBP","adp":0.375,"act":48.9},{"panel":"E","fbp":"0 mM FBP","adp":0.5,"act":57.3},{"panel":"E","fbp":"0 mM FBP","adp":0.75,"act":69.1},{"panel":"E","fbp":"0 mM FBP","adp":1,"act":77},{"panel":"E","fbp":"0 mM FBP","adp":1.25,"act":82.8},{"panel":"E","fbp":"0 mM FBP","adp":1.5,"act":87.1},{"panel":"E","fbp":"0 mM FBP","adp":1.75,"act":90.4},{"panel":"E","fbp":"0 mM FBP","adp":2,"act":93.1},
{"panel":"E","fbp":"2 mM FBP","adp":0,"act":0},{"panel":"E","fbp":"2 mM FBP","adp":0.03125,"act":7.6},{"panel":"E","fbp":"2 mM FBP","adp":0.0625,"act":14.6},{"panel":"E","fbp":"2 mM FBP","adp":0.125,"act":27.2},{"panel":"E","fbp":"2 mM FBP","adp":0.1875,"act":38.1},{"panel":"E","fbp":"2 mM FBP","adp":0.25,"act":47.7},{"panel":"E","fbp":"2 mM FBP","adp":0.375,"act":63.9},{"panel":"E","fbp":"2 mM FBP","adp":0.5,"act":76.8},{"panel":"E","fbp":"2 mM FBP","adp":0.75,"act":96.4},{"panel":"E","fbp":"2 mM FBP","adp":1,"act":110.5},{"panel":"E","fbp":"2 mM FBP","adp":1.25,"act":121.1},{"panel":"E","fbp":"2 mM FBP","adp":1.5,"act":129.4},{"panel":"E","fbp":"2 mM FBP","adp":1.75,"act":136.1},{"panel":"E","fbp":"2 mM FBP","adp":2,"act":141.5},
{"panel":"F","fbp":"0 mM FBP","adp":0,"act":0},{"panel":"F","fbp":"0 mM FBP","adp":0.03125,"act":8.4},{"panel":"F","fbp":"0 mM FBP","adp":0.0625,"act":15.9},{"panel":"F","fbp":"0 mM FBP","adp":0.125,"act":28.6},{"panel":"F","fbp":"0 mM FBP","adp":0.1875,"act":38.9},{"panel":"F","fbp":"0 mM FBP","adp":0.25,"act":47.5},{"panel":"F","fbp":"0 mM FBP","adp":0.375,"act":61},{"panel":"F","fbp":"0 mM FBP","adp":0.5,"act":71.1},{"panel":"F","fbp":"0 mM FBP","adp":0.75,"act":85.1},{"panel":"F","fbp":"0 mM FBP","adp":1,"act":94.4},{"panel":"F","fbp":"0 mM FBP","adp":1.25,"act":101.1},{"panel":"F","fbp":"0 mM FBP","adp":1.5,"act":106.1},{"panel":"F","fbp":"0 mM FBP","adp":1.75,"act":109.9},{"panel":"F","fbp":"0 mM FBP","adp":2,"act":113},
{"panel":"F","fbp":"2 mM FBP","adp":0,"act":0},{"panel":"F","fbp":"2 mM FBP","adp":0.03125,"act":10.1},{"panel":"F","fbp":"2 mM FBP","adp":0.0625,"act":19.3},{"panel":"F","fbp":"2 mM FBP","adp":0.125,"act":35.4},{"panel":"F","fbp":"2 mM FBP","adp":0.1875,"act":49},{"panel":"F","fbp":"2 mM FBP","adp":0.25,"act":60.8},{"panel":"F","fbp":"2 mM FBP","adp":0.375,"act":79.9},{"panel":"F","fbp":"2 mM FBP","adp":0.5,"act":94.8},{"panel":"F","fbp":"2 mM FBP","adp":0.75,"act":116.6},{"panel":"F","fbp":"2 mM FBP","adp":1,"act":131.7},{"panel":"F","fbp":"2 mM FBP","adp":1.25,"act":142.8},{"panel":"F","fbp":"2 mM FBP","adp":1.5,"act":151.3},{"panel":"F","fbp":"2 mM FBP","adp":1.75,"act":158.1},{"panel":"F","fbp":"2 mM FBP","adp":2,"act":163.5}
]
}
}
